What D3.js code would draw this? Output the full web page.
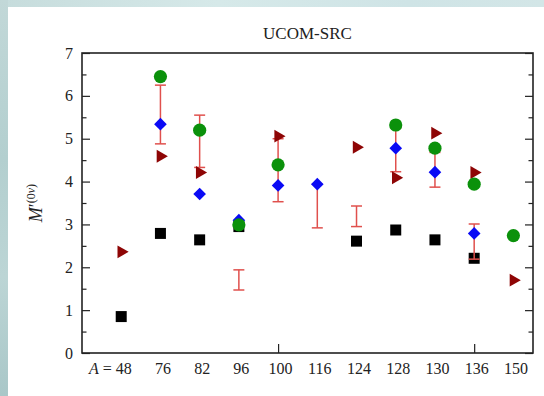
<!DOCTYPE html>
<html>
<head>
<meta charset="utf-8">
<script src="https://cdn.jsdelivr.net/npm/d3@7"></script>
<style>
  body { margin: 0; background: #c3d9da; }
  svg { display: block; }
  text { font-family: "Liberation Serif", "DejaVu Serif", serif; fill: #222; }
</style>
</head>
<body>
<div id="chart"></div>
<script>
// mass numbers along the x axis
const massNumbers = ['48', '76', '82', '96', '100', '116', '124', '128', '130', '136', '150'];

// one value per mass number, null where the model gives none
const squareVals   = [0.85, 2.79, 2.64, 2.95, null, null, 2.61, 2.87, 2.64, 2.21, null];
const diamondVals  = [null, 5.34, 3.71, 3.10, 3.91, 3.94, null, 4.78, 4.22, 2.79, null];
const circleVals   = [null, 6.45, 5.20, 2.99, 4.39, null, null, 5.32, 4.78, 3.94, 2.74];
const triangleVals = [2.36, 4.59, 4.21, null, 5.06, null, 4.80, 4.09, 5.13, 4.21, 1.70];
const rangeLow     = [null, 4.88, 4.33, 1.47, 3.53, 2.92, 2.95, 4.23, 3.87, 2.19, null];
const rangeHigh    = [null, 6.25, 5.55, 1.94, 5.00, 3.94, 3.43, 5.25, 4.68, 3.01, null];

const yMajor = [0, 1, 2, 3, 4, 5, 6, 7];
const yMinor = [0.5, 1.5, 2.5, 3.5, 4.5, 5.5, 6.5];
const xTicks = [5, 10];

const width = 544;
const height = 396;

const svg = d3.select('#chart')
  .append('svg')
  .attr('width', width)
  .attr('height', height);

// blurred backdrop behind the white panel
const defs = svg.append('defs');
const gTop = defs.append('linearGradient').attr('id', 'bgTop');
gTop.append('stop').attr('offset', '0%').attr('stop-color', '#c6dcdc');
gTop.append('stop').attr('offset', '40%').attr('stop-color', '#d6e9e9');
gTop.append('stop').attr('offset', '75%').attr('stop-color', '#cfe4e6');
gTop.append('stop').attr('offset', '100%').attr('stop-color', '#d3e6e7');
const gLeft = defs.append('linearGradient').attr('id', 'bgLeft')
  .attr('x1', 0).attr('y1', 0).attr('x2', 0).attr('y2', 1);
gLeft.append('stop').attr('offset', '0%').attr('stop-color', '#c2d8d8');
gLeft.append('stop').attr('offset', '40%').attr('stop-color', '#b3cfcf');
gLeft.append('stop').attr('offset', '70%').attr('stop-color', '#bcd5d5');
gLeft.append('stop').attr('offset', '100%').attr('stop-color', '#a9c7c8');

svg.append('rect').attr('width', width).attr('height', 7).attr('fill', 'url(#bgTop)');
svg.append('rect').attr('y', 0).attr('width', 8).attr('height', height).attr('fill', 'url(#bgLeft)');
svg.append('rect').attr('x', 8).attr('y', 7).attr('width', width - 8).attr('height', height - 7).attr('fill', '#fff');

const x = d3.scaleLinear().domain([0, 11.5]).range([82, 533]);
const y = d3.scaleLinear().domain([0, 7]).range([353, 53]);

// title
svg.append('text')
  .attr('x', (x.range()[0] + x.range()[1]) / 2)
  .attr('y', 39)
  .attr('text-anchor', 'middle')
  .style('font-size', '17px')
  .text('UCOM-SRC');

// y axis, ticks pointing inward
const yAxis = svg.append('g')
  .attr('transform', `translate(${x.range()[0]},0)`)
  .call(d3.axisLeft(y).tickValues(yMajor).tickSize(-8).tickPadding(9).tickFormat(d3.format('d')));
yAxis.selectAll('text').style('font-size', '16px').style('font-family', '"Liberation Serif", serif').attr('fill', '#222');

svg.append('g')
  .attr('transform', `translate(${x.range()[0]},0)`)
  .call(d3.axisLeft(y).tickValues(yMinor).tickSize(-4.5).tickFormat(''));

svg.append('g')
  .attr('transform', `translate(${x.range()[1]},0)`)
  .call(d3.axisRight(y).tickValues(yMajor).tickSize(-8).tickFormat(''));
svg.append('g')
  .attr('transform', `translate(${x.range()[1]},0)`)
  .call(d3.axisRight(y).tickValues(yMinor).tickSize(-4.5).tickFormat(''));

// x axis: two inward ticks, labels on every mass number
svg.append('g')
  .attr('transform', `translate(0,${y.range()[0]})`)
  .call(d3.axisBottom(x).tickValues(xTicks).tickSize(-9).tickFormat(''));

const xLabels = svg.append('g')
  .attr('transform', `translate(2,${y.range()[0]})`)
  .call(d3.axisBottom(x).tickValues(massNumbers.map((d, i) => i + 1)).tickSize(0).tickPadding(10)
    .tickFormat((d, i) => massNumbers[i]));
xLabels.selectAll('text').style('font-size', '16px').style('font-family', '"Liberation Serif", serif').attr('fill', '#222');

// first label reads "A = 48"
const first = xLabels.select('.tick text');
first.text(null).attr('text-anchor', 'end').attr('x', 8);
first.append('tspan').style('font-style', 'italic').text('A');
first.append('tspan').text(' = ' + massNumbers[0]);

svg.selectAll('.domain').remove();
svg.selectAll('.tick line').attr('stroke', '#222').attr('stroke-width', 1.2);

// frame
svg.append('rect')
  .attr('x', x.range()[0])
  .attr('y', y.range()[1])
  .attr('width', x.range()[1] - x.range()[0])
  .attr('height', y.range()[0] - y.range()[1])
  .attr('fill', 'none')
  .attr('stroke', '#222')
  .attr('stroke-width', 1.6);

// y label M'(0v)
const yLabel = svg.append('text')
  .attr('transform', `translate(42,${(y.range()[0] + y.range()[1]) / 2}) rotate(-90)`)
  .attr('text-anchor', 'middle')
  .style('font-size', '18px');
yLabel.append('tspan').style('font-style', 'italic').text('M');
yLabel.append('tspan').text('\u2032');
yLabel.append('tspan').attr('dy', -7).style('font-size', '12px').text('(0');
yLabel.append('tspan').style('font-size', '12px').style('font-style', 'italic').text('\u03bd');
yLabel.append('tspan').style('font-size', '12px').text(')');

const plot = svg.append('g');

function points(vals) {
  return vals.map((v, i) => ({ i: i + 1, v })).filter(d => d.v !== null);
}

// squares
plot.selectAll('.sq')
  .data(points(squareVals))
  .enter()
  .append('path')
  .attr('d', d3.symbol(d3.symbolSquare, 121))
  .attr('transform', d => `translate(${x(d.i)},${y(d.v)})`)
  .attr('fill', '#000');

// ranges
const ranges = massNumbers.map((m, i) => ({ i: i + 1, lo: rangeLow[i], hi: rangeHigh[i] }))
  .filter(d => d.lo !== null);
const bars = plot.selectAll('.bar')
  .data(ranges)
  .enter()
  .append('g')
  .attr('stroke', '#e0504d')
  .attr('stroke-width', 1.5);
bars.append('line')
  .attr('x1', d => x(d.i)).attr('x2', d => x(d.i))
  .attr('y1', d => y(d.lo)).attr('y2', d => y(d.hi));
bars.append('line')
  .attr('x1', d => x(d.i) - 5.5).attr('x2', d => x(d.i) + 5.5)
  .attr('y1', d => y(d.lo)).attr('y2', d => y(d.lo));
bars.append('line')
  .attr('x1', d => x(d.i) - 5.5).attr('x2', d => x(d.i) + 5.5)
  .attr('y1', d => y(d.hi)).attr('y2', d => y(d.hi));

// triangles
plot.selectAll('.tri')
  .data(points(triangleVals))
  .enter()
  .append('path')
  .attr('d', d3.symbol(d3.symbolTriangle, 72))
  .attr('transform', d => `translate(${x(d.i)},${y(d.v)}) rotate(90)`)
  .attr('fill', '#8e0505');

// diamonds
plot.selectAll('.dia')
  .data(points(diamondVals))
  .enter()
  .append('path')
  .attr('d', d3.symbol(d3.symbolSquare, 80))
  .attr('transform', d => `translate(${x(d.i)},${y(d.v)}) rotate(45)`)
  .attr('fill', '#0a0af5');

// circles
plot.selectAll('.circ')
  .data(points(circleVals))
  .enter()
  .append('circle')
  .attr('cx', d => x(d.i))
  .attr('cy', d => y(d.v))
  .attr('r', 6.6)
  .attr('fill', '#0b910b');
</script>
</body>
</html>
